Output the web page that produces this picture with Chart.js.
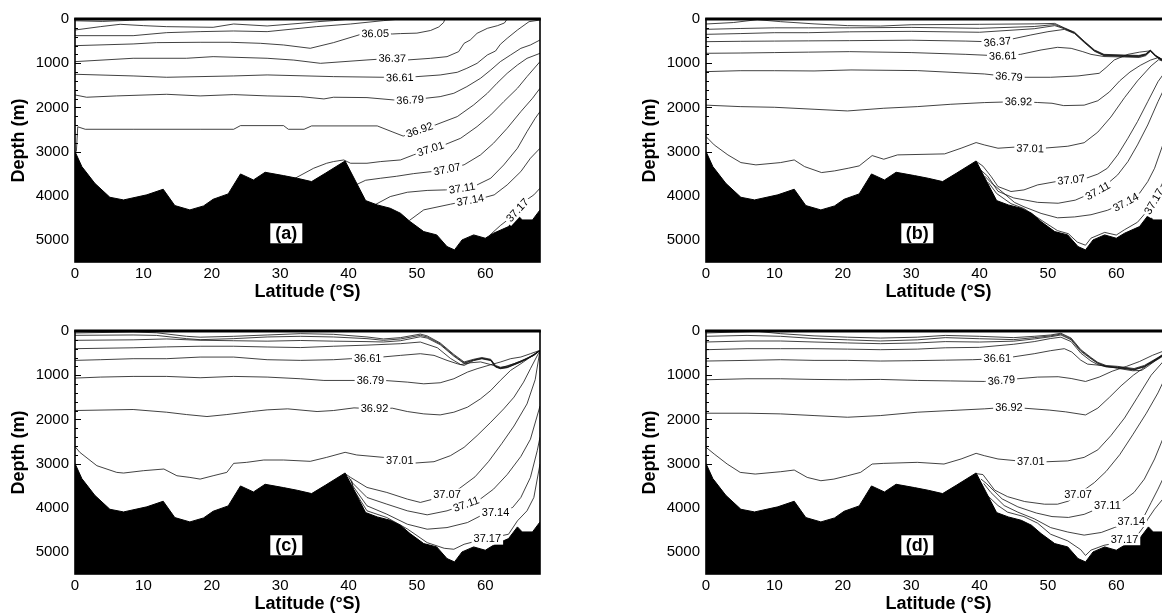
<!DOCTYPE html>
<html><head><meta charset="utf-8">
<script src="https://cdn.jsdelivr.net/npm/chart.js@4.4.0/dist/chart.umd.min.js"></script>
<style>
html,body{margin:0;padding:0;background:#fff;overflow:hidden;width:1162px;height:615px;position:relative;}
canvas{position:absolute;}
</style></head><body>
<canvas id="pa" width="580" height="310" style="left:0;top:0"></canvas>
<canvas id="pb" width="580" height="310" style="left:631px;top:0"></canvas>
<canvas id="pc" width="580" height="310" style="left:0;top:312px"></canvas>
<canvas id="pd" width="580" height="310" style="left:631px;top:312px"></canvas>
<script>
// ---------- axes ----------
const latitudeTicks = [0,10,20,30,40,50,60];
const depthTicks = [0,1000,2000,3000,4000,5000];
const latRange = [0,68];
const depthRange = [0,5500];

// ---------- bathymetry (lat, depth) ----------
const bathymetry = [[0,3000],[1,3340],[2.9,3720],[5.1,4035],[7.1,4095],[10.5,3980],[12.9,3853],[14.6,4223],[16.8,4321],[18.8,4231],[20.2,4080],[22.4,3959],[24.2,3507],[26.1,3643],[27.8,3469],[30.5,3545],[32.5,3605],[34.6,3680],[36.6,3492],[39.5,3213],[42.5,4110],[44.2,4208],[46.1,4284],[47.6,4397],[49.0,4585],[51.0,4812],[52.9,4887],[54.4,5151],[55.5,5226],[56.6,5000],[58.3,4887],[60.0,4962],[61.2,4849],[63.4,4698],[64.7,4434],[65.4,4548],[66.9,4548],[68,4321]];

// ---------- panel (a) contours ----------
const a_u1 = [[0,40],[4,55],[8,30],[11,10],[13,0]];
const a_u2 = [[0,249],[3.7,173],[6.6,120],[10,150],[13.4,173],[20.2,188],[23.2,113],[28.1,158],[32.9,98],[35.5,60],[37.8,37],[40.3,0]];
const a_u3 = [[0,377],[8.5,377],[13.4,309],[18.3,286],[23.2,271],[28.1,286],[32.9,211],[35.3,173],[40.3,113],[45.1,37],[47.6,0]];
const a_3605 = [[0,603],[8.5,565],[11.9,535],[18.3,527],[22.7,527],[27.1,550],[30.5,588],[34.4,663],[37.8,535],[41.8,347],[43.9,330],[46.4,339],[47.6,330],[50,320],[52,260],[53.2,180],[53.9,80],[54.1,0]];
const a_3637 = [[0,965],[8.5,889],[16.3,889],[20.2,852],[28.1,889],[32,930],[35.9,1003],[42.7,927],[46.4,890],[48.6,927],[52,890],[54.4,852],[56.1,739],[56.9,550],[57.8,475],[58.8,324],[60.3,211],[61.8,150],[62.8,90],[63.2,0]];
const a_3661 = [[0,1251],[8.5,1289],[13.4,1319],[23.2,1289],[28.1,1266],[37.8,1304],[45.1,1319],[47.5,1327],[50,1304],[53.4,1267],[55.9,1206],[57.3,1116],[58.8,1003],[60.3,814],[61.5,724],[62.2,573],[63.2,437],[64.7,249],[66.4,60],[68,23]];
const a_3679 = [[0,1719],[1.7,1771],[6.1,1741],[13.4,1704],[18.3,1741],[23.2,1711],[28.1,1741],[33,1757],[36.4,1809],[37.8,1771],[42.7,1779],[46.6,1832],[49,1832],[51.2,1795],[53.4,1757],[55.4,1681],[57.3,1531],[59.3,1342],[60.8,1154],[62.2,965],[63.7,814],[65.2,664],[66.6,588],[68,475]];
const a_3692 = [[0.2,3000],[0.4,2440],[1.5,2496],[8.5,2496],[18.3,2496],[23.2,2496],[24.2,2413],[30.5,2413],[31.2,2496],[33.5,2496],[34.6,2420],[44.2,2420],[46.5,2560],[48,2650],[50.4,2511],[52.7,2398],[55.9,2209],[58.3,1945],[60.3,1681],[61.7,1455],[63.2,1229],[64.7,1041],[66.1,890],[68,777]];
const a_3701 = [[32.0,3620],[34.9,3378],[36.8,3265],[37.8,3227],[39.3,3190],[40.3,3265],[42.7,3265],[44.7,3227],[47.6,3190],[49.5,3076],[52,2940],[54,2850],[56.4,2699],[58.8,2435],[60.8,2171],[62.7,1870],[64.7,1568],[66.1,1304],[68,965]];
const a_3707 = [[41.0,3760],[42.5,3650],[44.7,3604],[47,3560],[49.5,3500],[52.2,3453],[54.4,3400],[56.9,3300],[59.3,3076],[61.2,2812],[63.2,2473],[65.2,2096],[66.9,1795],[68,1568]];
const a_3711 = [[43.8,4210],[46.1,4019],[48.6,3921],[51.5,3880],[54.2,3868],[56.6,3830],[58.8,3755],[60.8,3604],[62.7,3303],[64.7,2926],[66.1,2549],[67.3,2247],[68,2096]];
const a_3714 = [[48.9,4560],[51.0,4320],[54.9,4192],[57.8,4100],[59.5,4057],[61.3,3981],[63.2,3755],[65.2,3453],[66.6,3152],[68,2926]];
const a_3717 = [[60.6,4900],[62.2,4675],[63.5,4520],[64.7,4330],[65.8,4120],[67.1,3981],[68,3830]];

// ---------- panel (b) contours ----------
const b_u1 = [[0,113],[4,80],[7.5,15],[10.9,60],[15.8,110],[20.7,150],[25.5,160],[30,130],[40,120],[48,110],[51,100],[52.4,200],[53.9,300],[55.3,500],[56.8,700],[58.2,800],[61,815],[63.3,825],[64.3,790],[65,705],[65.8,830],[66.8,920],[68,990]];
const b_u2 = [[0,234],[5,215],[10,200],[15,200],[21,200],[30,190],[40,211],[48,170],[51,125],[52.4,210],[53.9,310],[55.3,510],[56.8,710],[58.2,810],[61,825],[63.3,835],[64.3,798],[65,710],[65.8,835],[66.8,925],[68,995]];
const b_u3 = [[0,347],[5,330],[10,310],[15,310],[21,290],[30,280],[40,300],[48,220],[51,150],[52.4,220],[53.9,320],[55.3,520],[56.8,720],[58.2,820],[61,835],[63.3,845],[64.3,806],[65,715],[65.8,840],[66.8,930],[68,1000]];
const b_3637 = [[0,513],[5,505],[10,500],[15,495],[21,490],[30,480],[38,500],[42.6,520],[44.8,452],[47.5,362],[50,287],[52.4,235],[53.9,330],[55.3,530],[56.8,730],[58.2,830],[61,845],[63.3,855],[64.3,814],[65,720],[65.8,845],[66.8,935],[68,1005]];
const b_3661 = [[0,776],[5,770],[10,760],[15,750],[21,739],[30,760],[38,800],[43.4,837],[46,800],[49,701],[51.4,641],[53.4,664],[55.1,739],[56.3,800],[58.2,850],[61.2,860],[63.4,870],[64.3,830],[65,730],[65.8,850],[66.8,940],[68,1010]];
const b_3679 = [[0,1191],[5,1170],[10,1170],[15.8,1176],[21.2,1153],[30.9,1168],[40.7,1244],[44.3,1304],[46.8,1319],[50.4,1319],[54.4,1289],[57.5,1229],[58.5,1100],[59.7,927],[61.7,800],[63.4,750],[65,720],[65.8,845],[66.8,935],[68,1005]];
const b_3692 = [[0,1950],[5,1983],[10,1998],[15.8,2043],[20.7,2081],[26,2020],[30.9,1983],[35.8,1930],[40.7,1892],[45.7,1870],[48.5,1890],[50.6,1907],[52.3,1960],[55.3,1950],[57.3,1850],[59,1650],[60.5,1400],[62,1200],[63.5,1050],[65,930],[66,880],[66.8,950],[68,1020]];
const b_3701 = [[0,2661],[1.2,2850],[3.2,3076],[5.1,3250],[7.3,3302],[10.9,3250],[12.9,3190],[14.4,3340],[16.9,3476],[18.8,3438],[20.8,3378],[22.4,3325],[24.3,3091],[26,3174],[28,3076],[34.9,3053],[37.3,2925],[39.5,2797],[40.7,2850],[42.7,2925],[45.1,2900],[47.4,2930],[49.7,2920],[52.9,2880],[55.3,2800],[57.3,2560],[59.2,2220],[61.2,1780],[63.1,1400],[65.1,1060],[66.2,920],[66.8,955],[68,1025]];
const b_3707 = [[39.6,3230],[40.5,3330],[41.7,3566],[42.7,3792],[44.6,3905],[46.5,3868],[48.5,3755],[51.2,3680],[53.4,3640],[55.6,3604],[57.3,3510],[58.7,3378],[60.2,3076],[61.7,2699],[63.1,2322],[64.6,1870],[66.1,1418],[66.8,1267],[68,1050]];
const b_3711 = [[40.2,3420],[41.2,3560],[42.7,3900],[45,4050],[48.5,4150],[51.5,4170],[54,4100],[55.5,4000],[57.5,3880],[58.5,3755],[60.2,3529],[61.7,3227],[63.1,2850],[64.6,2398],[66.1,1870],[66.8,1644],[68,1300]];
const b_3714 = [[40.8,3560],[41.65,3700],[43.6,3950],[45.1,4150],[46.5,4250],[49,4400],[51.4,4500],[53.9,4480],[56.3,4430],[58.7,4330],[61.4,4150],[63.4,3943],[64.6,3680],[65.6,3378],[66.8,2850],[68,2300]];
const b_3717 = [[41.3,3700],[42.5,3950],[44.6,4180],[46.5,4290],[49,4550],[51.4,4790],[53,4860],[54.3,5050],[55.5,5120],[56.3,4960],[58.3,4830],[60,4890],[61.2,4770],[63.1,4600],[64.1,4420],[65.5,4130],[66.8,3700],[68,3300]];

// ---------- panel (c) contours ----------
const c_u1 = [[0,45],[8.5,22],[11.9,40],[16.3,120],[18.3,140],[23.2,120],[28.1,90],[33,60],[37.8,75],[42.7,135],[45.1,180],[47.6,150],[50.5,70],[51.5,110],[53.4,270],[55.4,530],[56.9,700],[58.3,640],[59.5,600],[60.8,640],[61.5,780],[62.2,820],[63.2,800],[65.2,680],[67.1,540],[68,438]];
const c_u2 = [[0,98],[8.5,90],[11.9,100],[16.3,173],[18.3,196],[23.2,173],[28.1,135],[33,120],[37.8,135],[42.7,173],[45.1,211],[47.6,180],[50.5,98],[51.5,135],[53.4,290],[55.4,552],[56.9,720],[58.3,655],[59.5,615],[60.8,655],[61.5,800],[62.2,838],[63.2,815],[65.2,692],[67.1,546],[68,438]];
const c_u3 = [[0,211],[8.5,200],[13.4,180],[18.3,210],[23.2,220],[28.1,230],[33,215],[37.8,230],[42.7,240],[45.1,249],[47.6,220],[50.5,130],[51.5,160],[53.4,310],[55.4,570],[56.9,735],[58.3,660],[59.5,620],[60.8,660],[61.5,808],[62.2,846],[63.2,823],[65.2,698],[67.1,549],[68,438]];
const c_u4 = [[0,400],[8.5,380],[13.4,360],[18.3,345],[23.2,345],[28.1,362],[33,375],[37.8,345],[42.7,320],[47.6,287],[50.5,250],[53,380],[54.9,620],[56.4,760],[57.8,720],[59.3,700],[60.8,760],[62.2,835],[64.2,740],[66.1,625],[68,438]];
const c_3661 = [[0,665],[3.7,650],[8.5,627],[13.4,627],[18.3,590],[23.2,590],[28.1,650],[33,665],[37.8,650],[40.3,627],[42.8,627],[44.9,589],[47.6,552],[50.5,514],[52.5,552],[54.4,665],[55.9,741],[56.9,779],[58.3,670],[59.5,630],[60.8,670],[61.5,816],[62.2,854],[63.2,831],[65.2,703],[67.1,552],[68,438]];
const c_3679 = [[0,1066],[3.7,1043],[8.5,1028],[13.4,1028],[18.3,1058],[23.2,1028],[28.1,1043],[33,1081],[36.4,1119],[40.8,1119],[43.2,1119],[45.2,1119],[48.6,1157],[51,1195],[53.4,1172],[55.4,1081],[57.4,930],[58.8,854],[60.8,763],[62.2,703],[63.7,627],[65.2,589],[66.6,514],[68,438]];
const c_3692 = [[0,1800],[8.5,1777],[13.4,1838],[16.3,1891],[19.3,1936],[22.2,1891],[25.8,1823],[28.1,1785],[31.1,1762],[35.4,1823],[37.8,1800],[40.8,1740],[43.8,1760],[46.4,1747],[48.6,1823],[51,1876],[53.4,1899],[55.4,1838],[57.4,1724],[59.3,1535],[60.8,1346],[62.2,1119],[63.7,892],[65.2,741],[66.6,590],[68,438]];
const c_3701 = [[0,2617],[0.7,2746],[3.2,3049],[6.1,3200],[7.1,3215],[10,3162],[13,3124],[14.9,3276],[16.8,3314],[18.3,3352],[20.2,3276],[22.2,3200],[23.2,2996],[25.1,2973],[27.6,2920],[30.5,2920],[34.4,2950],[36.8,2860],[39.5,2746],[41.2,2806],[45.1,2860],[47.5,2935],[49.8,2988],[52.5,2958],[54.9,2822],[56.9,2633],[58.8,2368],[60.8,2065],[62.7,1762],[64.2,1497],[65.6,1157],[66.6,854],[68,438]];
const c_3707 = [[39.6,3240],[40.3,3314],[42.7,3541],[45.6,3654],[48.6,3805],[50.5,3880],[52.5,3800],[54.4,3700],[55.9,3600],[58.5,3300],[60.5,2950],[62.4,2550],[64.2,2150],[66.1,1650],[67.3,1100],[68,438]];
const c_3711 = [[40.0,3300],[40.5,3427],[42.7,3768],[45.6,3919],[48.6,4070],[51.5,4161],[54.4,4070],[57.2,3920],[59.3,3800],[61.2,3580],[63.2,3250],[65.2,2840],[66.6,2450],[68,1700]];
const c_3714 = [[40.3,3350],[40.6,3503],[42.7,3957],[45.6,4146],[48.6,4373],[51.5,4486],[54.4,4449],[57.4,4335],[59.3,4184],[61.5,4108],[64,3994],[65.2,3768],[66.6,3314],[67.6,2708],[68,2405]];
const c_3717 = [[40.5,3400],[40.7,3578],[42.7,4070],[45.6,4222],[48.6,4480],[51.5,4790],[54,4918],[55.4,4940],[56.9,4827],[58.8,4751],[60.3,4700],[63.4,4600],[64.7,4297],[66.1,4070],[67.1,3768],[68,3011]];

// ---------- panel (d) contours ----------
const d_u1 = [[0,45],[4,25],[7.5,8],[10.9,60],[15.8,110],[20.7,140],[25.5,160],[30.9,140],[35,100],[40,120],[45,150],[48,120],[50.4,90],[51.9,50],[53.4,160],[54.8,420],[56.3,600],[57.3,710],[58.5,780],[60.2,800],[62.6,850],[64.1,780],[66.1,600],[66.8,530],[68,438]];
const d_u2 = [[0,120],[6,100],[10.9,120],[15.8,170],[20.7,200],[25.5,226],[30.9,200],[35,150],[40,175],[45,195],[48,150],[50.4,110],[51.9,70],[53.4,180],[54.8,440],[56.3,615],[57.3,725],[58.5,795],[60.2,815],[62.6,865],[64.1,795],[66.1,610],[66.8,538],[68,438]];
const d_u3 = [[0,249],[6,226],[10.9,226],[15.8,249],[20.7,270],[25.5,287],[30.9,270],[35,240],[40,250],[45,230],[48,180],[50.4,130],[51.9,90],[53.4,200],[54.8,460],[56.3,630],[57.3,735],[58.5,805],[60.2,825],[62.6,875],[64.1,805],[66.1,615],[66.8,542],[68,438]];
const d_u4 = [[0,423],[6,400],[10.9,400],[15.8,400],[20.7,410],[25.5,423],[30.9,410],[35,380],[40,370],[45,300],[48,240],[50.4,170],[51.9,140],[53.4,240],[54.8,500],[56.3,680],[57.3,760],[58.5,812],[60.2,832],[62.6,882],[64.1,810],[66.1,620],[66.8,546],[68,438]];
const d_3661 = [[0,680],[6,665],[10.9,650],[15.8,665],[20.7,665],[25.5,680],[30,672],[35,660],[39,650],[42.6,627],[44.8,589],[48,514],[50.4,445],[52.4,400],[53.5,476],[54.8,660],[55.8,750],[57.8,779],[60.2,845],[62.4,900],[63.7,892],[64.6,800],[66.1,627],[66.8,560],[68,438]];
const d_3679 = [[0,1104],[6,1081],[10.9,1081],[15.8,1096],[20.7,1104],[25.5,1096],[30.9,1119],[35.8,1130],[40.7,1142],[43.2,1119],[45.6,1081],[48.5,1043],[51.5,1035],[53.4,1075],[55.5,1142],[57.5,1043],[59.4,910],[61.5,800],[63.4,690],[65.3,550],[66.8,460],[68,438]];
const d_3692 = [[0,1861],[6,1861],[10.9,1876],[15.8,1914],[20.7,1952],[25.5,1914],[30.9,1838],[35.8,1800],[40.7,1762],[44.3,1724],[46.5,1747],[50.2,1790],[52.6,1830],[55.5,1900],[57.3,1745],[59,1500],[60.7,1240],[62.5,1000],[64.5,780],[66.1,640],[66.8,570],[68,438]];
const d_3701 = [[0,2632],[1.2,2784],[3.1,3011],[5,3200],[7.2,3238],[10.9,3185],[12.9,3147],[14.8,3314],[16.8,3389],[18.7,3352],[20.7,3276],[22.6,3200],[24.3,3011],[26,2996],[30.9,2973],[34.8,3011],[37.3,2897],[39.5,2769],[40.7,2822],[42.7,2897],[45.3,2935],[47.5,2950],[49.7,2960],[52.9,2940],[55.3,2860],[57.3,2690],[59.2,2370],[61.2,1970],[63.1,1500],[65.1,1000],[66.8,700],[68,438]];
const d_3707 = [[39.6,3230],[40.5,3250],[42.2,3600],[44.1,3750],[46.6,3860],[49.5,3920],[51.4,3920],[53,3850],[54.4,3700],[56.8,3430],[58.5,3180],[60.5,2800],[62.4,2350],[64.4,1860],[66.1,1400],[66.8,1170],[68,700]];
const d_3711 = [[40.2,3350],[41,3450],[43.3,3800],[45.6,3980],[48.3,4120],[50.6,4200],[53,4220],[55.3,4150],[57,4040],[58.7,3957],[60.9,3850],[62.6,3654],[64.1,3352],[65.6,2897],[66.8,2444],[68,1700]];
const d_3714 = [[40.6,3450],[41.65,3654],[43.6,3950],[45.6,4100],[48,4250],[50.4,4450],[52.9,4550],[55.3,4620],[57.8,4560],[59.7,4450],[62.2,4300],[64.1,4184],[65.1,3881],[66.1,3578],[66.8,3352],[68,2700]];
const d_3717 = [[41,3700],[42.7,3950],[44.1,4100],[46.5,4200],[48.5,4350],[50.4,4600],[52.9,4750],[54.8,4950],[55.5,5080],[56.3,4960],[58.2,4850],[60,4800],[61.2,4713],[63.1,4620],[64.1,4411],[64.6,4259],[65.6,4032],[66.8,3805],[68,3400]];

// ---------- contour labels: [level text, latitude along the line, follow line slope] ----------
const labelsA = [['36.05',43.9,1],['36.37',46.4,1],['36.61',47.5,1],['36.79',49,1],['36.92',50.4,1],['37.01',52,1],['37.07',54.4,1],['37.11',56.6,1],['37.14',57.8,1],['37.17',64.7,1]];
const labelsB = [['36.37',42.6,1],['36.61',43.4,1],['36.79',44.3,1],['36.92',45.7,1],['37.01',47.4,1],['37.07',53.4,1],['37.11',57.3,1],['37.14',61.4,1],['37.17',65.5,1]];
const labelsC = [['36.61',42.8,0],['36.79',43.2,0],['36.92',43.8,0],['37.01',47.5,0],['37.07',54.4,0],['37.11',57.2,1],['37.14',61.5,0],['37.17',60.3,0]];
const labelsD = [['36.61',42.6,0],['36.79',43.2,1],['36.92',44.3,0],['37.01',47.5,0],['37.07',54.4,0],['37.11',58.7,0],['37.14',62.2,0],['37.17',61.2,0]];

const panelLetterPos = [30.9, 4850];

// ---------- build ----------
const FONT = '"Liberation Sans", Arial, Helvetica, sans-serif';

function depthAt(series, lat) {
  for (let i = 0; i < series.length - 1; i++) {
    const [x0, y0] = series[i], [x1, y1] = series[i + 1];
    if ((lat >= x0 && lat <= x1) || (lat <= x0 && lat >= x1)) {
      const t = x1 === x0 ? 0 : (lat - x0) / (x1 - x0);
      return y0 + t * (y1 - y0);
    }
  }
  return null;
}

const framePlugin = {
  id: 'frame',
  afterDatasetsDraw(chart) {
    const {ctx, chartArea: a, scales: {y}} = chart;
    ctx.save();
    ctx.strokeStyle = '#000';
    ctx.lineWidth = 1;
    for (let i = 0; i < depthTicks.length; i++) {
      const v = depthTicks[i];
      const next = i + 1 < depthTicks.length ? depthTicks[i + 1] : depthRange[1];
      const step = (depthTicks[1] - depthTicks[0]) / 5;
      for (let d = v; d < next - 1e-6; d += step) {
        const py = Math.round(y.getPixelForValue(d)) + 0.5;
        const len = d === v ? 6 : 3;
        ctx.beginPath(); ctx.moveTo(a.left, py); ctx.lineTo(a.left + len, py); ctx.stroke();
      }
    }
    ctx.lineWidth = 1.6;
    ctx.strokeRect(a.left, a.top, a.right - a.left, a.bottom - a.top);
    ctx.lineWidth = 3;
    ctx.beginPath(); ctx.moveTo(a.left - 0.8, a.top); ctx.lineTo(a.right + 0.8, a.top); ctx.stroke();
    ctx.restore();
  }
};

const labelPlugin = {
  id: 'clabels',
  afterDatasetsDraw(chart) {
    const {ctx, scales: {x, y}} = chart;
    const cfg = chart.options.plugins.clabels;
    ctx.save();
    ctx.font = '11px ' + FONT;
    cfg.labels.forEach(([text, lat, follow]) => {
      const s = cfg.series[text];
      const d = depthAt(s, lat);
      if (d === null) return;
      const px = x.getPixelForValue(lat), py = y.getPixelForValue(d);
      let ang = 0;
      if (follow) {
        const d1 = depthAt(s, lat - 1.3), d2 = depthAt(s, lat + 1.3);
        if (d1 !== null && d2 !== null) {
          ang = Math.atan2(y.getPixelForValue(d2) - y.getPixelForValue(d1),
                           x.getPixelForValue(lat + 1.3) - x.getPixelForValue(lat - 1.3));
        }
      }
      const w = ctx.measureText(text).width;
      ctx.save();
      ctx.translate(px, py); ctx.rotate(ang);
      ctx.fillStyle = '#fff';
      ctx.fillRect(-w / 2 - 2, -6, w + 4, 12);
      ctx.fillStyle = '#000'; ctx.textAlign = 'center'; ctx.textBaseline = 'middle';
      ctx.fillText(text, 0, 0.5);
      ctx.restore();
    });
    const lx = x.getPixelForValue(panelLetterPos[0]), ly = y.getPixelForValue(panelLetterPos[1]);
    ctx.fillStyle = '#fff';
    ctx.fillRect(lx - 16, ly - 10, 32, 20);
    ctx.fillStyle = '#000';
    ctx.font = 'bold 18px ' + FONT;
    ctx.textAlign = 'center'; ctx.textBaseline = 'middle';
    ctx.fillText(cfg.letter, lx, ly + 1);
    ctx.restore();
  }
};

const toXY = arr => arr.map(p => ({x: p[0], y: p[1]}));

function makePanel(id, letter, series, labels) {
  const datasets = [{
    data: toXY(bathymetry), showLine: true, borderColor: '#000', borderWidth: 1,
    backgroundColor: '#000', fill: {value: depthRange[1]}, pointRadius: 0, tension: 0
  }];
  Object.keys(series).forEach(k => datasets.push({
    data: toXY(series[k]), showLine: true, borderColor: '#111', borderWidth: 0.8,
    pointRadius: 0, fill: false, tension: 0
  }));
  new Chart(document.getElementById(id), {
    type: 'scatter',
    data: {datasets},
    options: {
      responsive: false, animation: false, events: [],
      layout: {padding: {top: 19, right: 40, left: 0, bottom: 0}},
      plugins: {legend: {display: false}, tooltip: {enabled: false},
                clabels: {labels, series, letter}},
      scales: {
        x: {
          type: 'linear', min: latRange[0], max: latRange[1],
          afterFit(s) { s.height = 48; },
          afterBuildTicks(s) { s.ticks = latitudeTicks.map(v => ({value: v})); },
          grid: {display: false, drawTicks: false}, border: {display: false},
          ticks: {padding: 3, color: '#000', font: {family: FONT, size: 15}, maxRotation: 0, autoSkip: false,
                  callback: v => String(v)},
          title: {display: true, text: 'Latitude (°S)', color: '#000',
                  font: {family: FONT, size: 18, weight: 'bold', lineHeight: 1}, padding: {top: 0, bottom: 9}}
        },
        y: {
          type: 'linear', reverse: true, min: depthRange[0], max: depthRange[1],
          afterFit(s) { s.width = 75; },
          afterBuildTicks(s) { s.ticks = depthTicks.map(v => ({value: v})); },
          grid: {display: false, drawTicks: false}, border: {display: false},
          ticks: {padding: 6, color: '#000', font: {family: FONT, size: 15}, autoSkip: false,
                  callback: v => String(v)},
          title: {display: true, text: 'Depth (m)', color: '#000',
                  font: {family: FONT, size: 18, weight: 'bold', lineHeight: 1}, padding: {top: 10, bottom: 0}}
        }
      }
    },
    plugins: [labelPlugin, framePlugin]
  });
}

makePanel('pa', '(a)', {u1: a_u1, u2: a_u2, u3: a_u3, '36.05': a_3605, '36.37': a_3637, '36.61': a_3661, '36.79': a_3679, '36.92': a_3692, '37.01': a_3701, '37.07': a_3707, '37.11': a_3711, '37.14': a_3714, '37.17': a_3717}, labelsA);
makePanel('pb', '(b)', {u1: b_u1, u2: b_u2, u3: b_u3, '36.37': b_3637, '36.61': b_3661, '36.79': b_3679, '36.92': b_3692, '37.01': b_3701, '37.07': b_3707, '37.11': b_3711, '37.14': b_3714, '37.17': b_3717}, labelsB);
makePanel('pc', '(c)', {u1: c_u1, u2: c_u2, u3: c_u3, u4: c_u4, '36.61': c_3661, '36.79': c_3679, '36.92': c_3692, '37.01': c_3701, '37.07': c_3707, '37.11': c_3711, '37.14': c_3714, '37.17': c_3717}, labelsC);
makePanel('pd', '(d)', {u1: d_u1, u2: d_u2, u3: d_u3, u4: d_u4, '36.61': d_3661, '36.79': d_3679, '36.92': d_3692, '37.01': d_3701, '37.07': d_3707, '37.11': d_3711, '37.14': d_3714, '37.17': d_3717}, labelsD);
</script>
</body></html>
